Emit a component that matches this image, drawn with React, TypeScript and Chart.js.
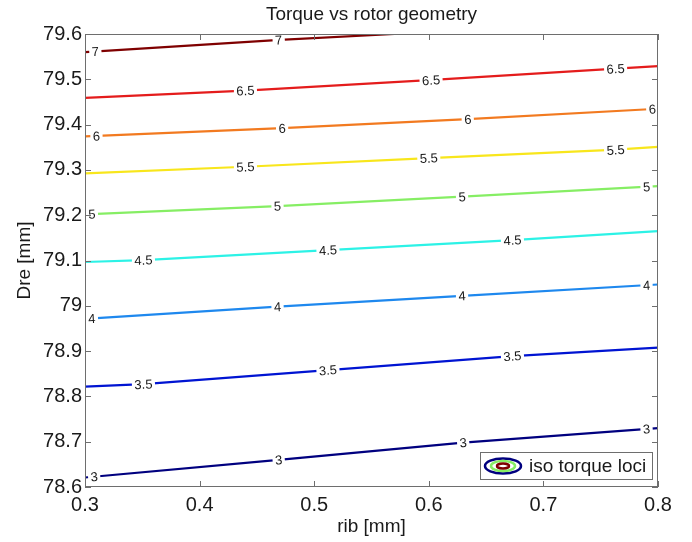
import React, { useEffect, useRef } from "react";
import { Chart, registerables } from "chart.js";

Chart.register(...registerables);

const FONT = '"Liberation Sans", Arial, Helvetica, sans-serif';

// Contour levels
const levels = ["3", "3.5", "4", "4.5", "5", "5.5", "6", "6.5", "7"];
const levelColors = ["#00007F", "#0014D2", "#1E88EE", "#2CF2E6", "#86EE64", "#F8E61C", "#F27A20", "#E41C1C", "#7F0000"];

// Iso-torque lines: rib [mm] (x) and Dre [mm] (y)
const x3 = [0.3, 0.469, 0.63, 0.8];
const y3 = [78.621, 78.66, 78.698, 78.73];
const x35 = [0.3, 0.351, 0.512, 0.673, 0.8];
const y35 = [78.8215, 78.827, 78.858, 78.889, 78.9075];
const x4 = [0.3, 0.468, 0.629, 0.8];
const y4 = [78.971, 78.998, 79.022, 79.047];
const x45 = [0.3, 0.351, 0.512, 0.673, 0.8];
const y45 = [79.0967, 79.101, 79.123, 79.145, 79.165];
const x5 = [0.3, 0.468, 0.629, 0.8];
const y5 = [79.202, 79.22, 79.241, 79.264];
const x55 = [0.3, 0.44, 0.6, 0.76, 0.8];
const y55 = [79.2925, 79.307, 79.326, 79.344, 79.351];
const x6 = [0.3, 0.472, 0.634, 0.8];
const y6 = [79.374, 79.392, 79.412, 79.435];
const x65 = [0.3, 0.44, 0.6, 0.76, 0.8];
const y65 = [79.459, 79.475, 79.498, 79.523, 79.529];
const x7 = [0.3, 0.47, 0.57];
const y7 = [79.56, 79.587, 79.6];

const lineXs = [x3, x35, x4, x45, x5, x55, x6, x65, x7];
const lineYs = [y3, y35, y4, y45, y5, y55, y6, y65, y7];

// Where the inline contour labels sit (rib values)
const labelXs = [
  [0.308, 0.469, 0.63, 0.79],
  [0.351, 0.512, 0.673],
  [0.306, 0.468, 0.629, 0.79],
  [0.351, 0.512, 0.673],
  [0.306, 0.468, 0.629, 0.79],
  [0.44, 0.6, 0.763],
  [0.31, 0.472, 0.634, 0.795],
  [0.44, 0.602, 0.763],
  [0.309, 0.469],
];

const xTicks = [0.3, 0.4, 0.5, 0.6, 0.7, 0.8];
const yTicks = [78.6, 78.7, 78.8, 78.9, 79, 79.1, 79.2, 79.3, 79.4, 79.5, 79.6];

const titleText = "Torque vs rotor geometry";
const xTitle = "rib [mm]";
const yTitle = "Dre [mm]";
const legendText = "iso torque loci";

const decorPlugin = {
  id: "decor",
  afterDatasetsDraw(chart: any) {
    const { ctx, scales } = chart;
    const xs = scales.x;
    const ys = scales.y;
    chart.data.datasets.forEach((ds: any, i: number) => {
      const pts = ds.data as { x: number; y: number }[];
      labelXs[i].forEach((lx) => {
        let k = 0;
        for (let j = 0; j < pts.length - 1; j++) {
          if (lx >= pts[j].x && lx <= pts[j + 1].x) { k = j; break; }
        }
        const a = pts[k], b = pts[k + 1];
        const t = (lx - a.x) / (b.x - a.x);
        const yv = a.y + t * (b.y - a.y);
        const px = xs.getPixelForValue(lx);
        const py = ys.getPixelForValue(yv);
        const ang = Math.atan2(
          ys.getPixelForValue(b.y) - ys.getPixelForValue(a.y),
          xs.getPixelForValue(b.x) - xs.getPixelForValue(a.x)
        );
        ctx.save();
        ctx.translate(px, py);
        ctx.rotate(ang);
        ctx.font = `13px ${FONT}`;
        const w = ctx.measureText(levels[i]).width;
        ctx.fillStyle = "#ffffff";
        ctx.fillRect(-w / 2 - 2.5, -3, w + 5, 6);
        ctx.fillStyle = "#1a1a1a";
        ctx.textAlign = "center";
        ctx.textBaseline = "middle";
        ctx.fillText(levels[i], 0, 1);
        ctx.restore();
      });
    });
  },
  afterDraw(chart: any) {
    const { ctx, chartArea, scales } = chart;
    const { left, right, top, bottom } = chartArea;
    const xs = scales.x;
    const ys = scales.y;
    ctx.save();
    // border
    ctx.strokeStyle = "#6e6e6e";
    ctx.lineWidth = 1;
    ctx.strokeRect(left + 0.5, top + 0.5, right - left - 1, bottom - top - 1);
    // inward ticks
    const tl = 6;
    ctx.beginPath();
    xTicks.forEach((v) => {
      const p = Math.round(xs.getPixelForValue(v)) + 0.5;
      ctx.moveTo(p, bottom); ctx.lineTo(p, bottom - tl);
      ctx.moveTo(p, top); ctx.lineTo(p, top + tl);
    });
    yTicks.forEach((v) => {
      const p = Math.round(ys.getPixelForValue(v)) + 0.5;
      ctx.moveTo(left, p); ctx.lineTo(left + tl, p);
      ctx.moveTo(right, p); ctx.lineTo(right - tl, p);
    });
    ctx.stroke();
    // title
    ctx.fillStyle = "#1a1a1a";
    ctx.font = `19px ${FONT}`;
    ctx.textAlign = "center";
    ctx.textBaseline = "middle";
    ctx.fillText(titleText, (left + right) / 2, 15);
    // legend
    const lx0 = right - 178, lx1 = right - 5, ly0 = bottom - 35, ly1 = bottom - 7;
    ctx.fillStyle = "#ffffff";
    ctx.fillRect(lx0, ly0, lx1 - lx0, ly1 - ly0);
    ctx.strokeStyle = "#6e6e6e";
    ctx.lineWidth = 1;
    ctx.strokeRect(lx0 + 0.5, ly0 + 0.5, lx1 - lx0 - 1, ly1 - ly0 - 1);
    const cx = lx0 + 23, cy = (ly0 + ly1) / 2;
    const rings: [number, number, string][] = [
      [18, 7.5, levelColors[0]],
      [12, 5, levelColors[4]],
      [6, 2.5, levelColors[8]],
    ];
    ctx.lineWidth = 2.5;
    rings.forEach(([rx, ry, c]) => {
      ctx.strokeStyle = c;
      ctx.beginPath();
      ctx.ellipse(cx, cy, rx, ry, 0, 0, Math.PI * 2);
      ctx.stroke();
    });
    ctx.fillStyle = "#1a1a1a";
    ctx.font = `19px ${FONT}`;
    ctx.textAlign = "left";
    ctx.textBaseline = "middle";
    ctx.fillText(legendText, lx0 + 49, cy + 1);
    ctx.restore();
  },
};

export default function App() {
  const ref = useRef<HTMLCanvasElement>(null);
  useEffect(() => {
    if (!ref.current) return;
    Chart.defaults.font.family = FONT;
    const datasets = levels.map((lv, i) => ({
      label: lv,
      data: lineXs[i].map((xv, j) => ({ x: xv, y: lineYs[i][j] })),
      borderColor: levelColors[i],
      backgroundColor: levelColors[i],
      borderWidth: 2.2,
      pointRadius: 0,
      fill: false,
      tension: 0,
    }));
    const chart = new Chart(ref.current, {
      type: "line",
      data: { datasets },
      plugins: [decorPlugin],
      options: {
        animation: false,
        responsive: false,
        layout: { padding: { top: 34, right: 34, left: 0, bottom: 0 } },
        plugins: { legend: { display: false }, tooltip: { enabled: false }, title: { display: false } },
        scales: {
          x: {
            type: "linear",
            min: 0.3,
            max: 0.8,
            afterBuildTicks: (s: any) => { s.ticks = xTicks.map((v) => ({ value: v })); },
            afterFit: (s: any) => { s.height = 55; },
            grid: { display: false, drawTicks: false },
            border: { display: false },
            ticks: {
              font: { size: 20 },
              color: "#1a1a1a",
              padding: 6,
              maxRotation: 0,
              callback: (v: any) => String(Math.round(Number(v) * 10) / 10),
            },
            title: { display: true, text: xTitle, font: { size: 19 }, color: "#1a1a1a", padding: { top: 0, bottom: 4 } },
          },
          y: {
            type: "linear",
            min: 78.6,
            max: 79.6,
            afterBuildTicks: (s: any) => { s.ticks = yTicks.map((v) => ({ value: v })); },
            afterFit: (s: any) => { s.width = 85; },
            grid: { display: false, drawTicks: false },
            border: { display: false },
            ticks: {
              font: { size: 20 },
              color: "#1a1a1a",
              padding: 3,
              callback: (v: any) => String(Math.round(Number(v) * 10) / 10),
            },
            title: { display: true, text: yTitle, font: { size: 19 }, color: "#1a1a1a", padding: { top: 13, bottom: 0 } },
          },
        },
      },
    });
    return () => chart.destroy();
  }, []);
  return (
    <canvas
      ref={ref}
      width={692}
      height={542}
      style={{ position: "absolute", left: 0, top: 0, width: 692, height: 542 }}
    />
  );
}
